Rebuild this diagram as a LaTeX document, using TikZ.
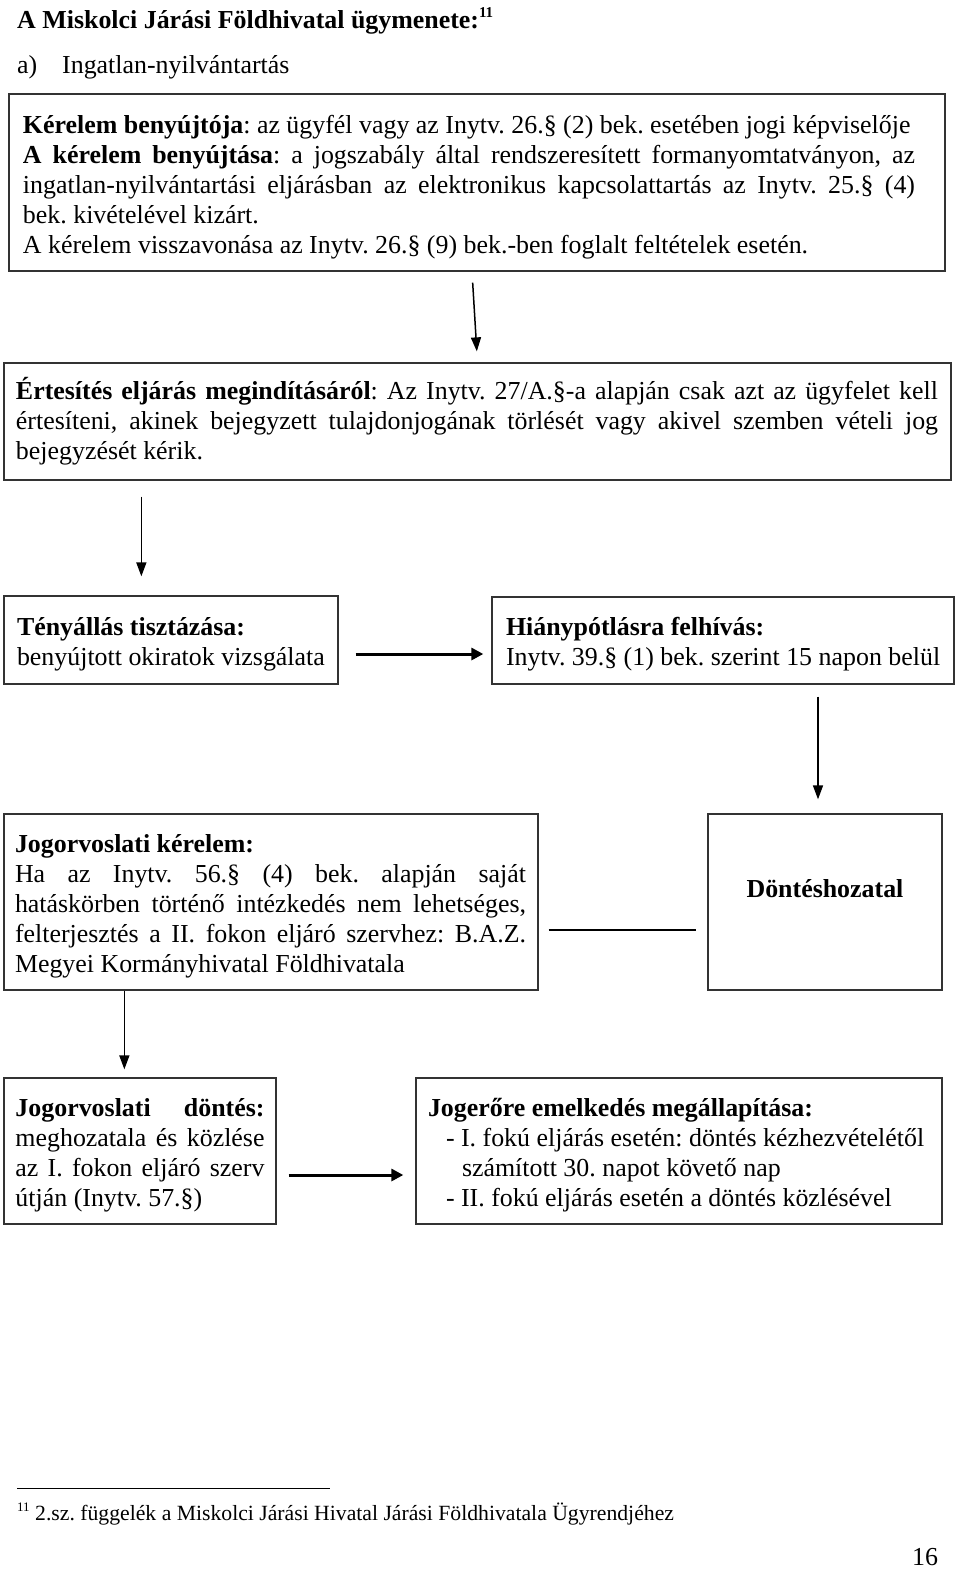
\documentclass[tikz,border=0pt]{standalone}
\usepackage{fontspec}
\setmainfont{Liberation Serif}
\usetikzlibrary{arrows.meta}
\frenchspacing
\newcommand\fsz{\fontsize{25.9}{30}\selectfont\frenchspacing}
\newcommand\rsp{\spaceskip=0pt\relax\xspaceskip=0pt\relax}
\newcommand\jl[2]{\makebox[#1][s]{\rsp #2}}
\newcommand\nl[1]{\mbox{\rsp #1}}
\newcommand\tst[1]{\rule{0pt}{#1}}
\begin{document}
\begin{tikzpicture}[x=1pt,y=-1pt,
  box/.style={draw=black!80, line width=1.3pt, rectangle, inner sep=0pt, align=left, font=\fsz},
  plain/.style={inner sep=0pt, anchor=base west, font=\fsz},
  arr/.style={line width=1.5pt, -{Triangle[length=14pt,width=10pt]}},
  harr/.style={line width=3pt, -{Triangle[length=12pt,width=12pt]}},
  link/.style={line width=1.5pt}]
\useasboundingbox (0,0) rectangle (960,1569);
\fill[white] (0,0) rectangle (960,1569);

% heading
\node[plain, font=\fsz\bfseries] (title) at (17,28) {\nl{A Miskolci Járási Földhivatal ügymenete:}\raisebox{11pt}{\fontsize{15}{15}\selectfont 11}};
\node[plain] (sub1) at (17,73) {a)};
\node[plain] (sub2) at (62,73) {Ingatlan-nyilvántartás};

% boxes
\node[box, minimum width=936pt, minimum height=177pt, text width=908pt] (b1) at (477,182.5) {%
\tst{27pt}\nl{\textbf{Kérelem benyújtója}: az ügyfél vagy az Inytv. 26.§ (2) bek. esetében jogi képviselője}\\
\jl{892pt}{\textbf{A kérelem benyújtása}: a jogszabály által rendszeresített formanyomtatványon, az}\\
\jl{892pt}{ingatlan-nyilvántartási eljárásban az elektronikus kapcsolattartás az Inytv. 25.§ (4)}\\
\nl{bek. kivételével kizárt.}\\
\nl{A kérelem visszavonása az Inytv. 26.§ (9) bek.-ben foglalt feltételek esetén.}};

\node[box, minimum width=947pt, minimum height=117pt, text width=923pt] (b2) at (477.5,421.5) {%
\jl{922pt}{\textbf{Értesítés eljárás megindításáról}: Az Inytv. 27/A.§-a alapján csak azt az ügyfelet kell}\\
\jl{922pt}{értesíteni, akinek bejegyzett tulajdonjogának törlését vagy akivel szemben vételi jog}\\
\nl{bejegyzését kérik.}};

\node[box, minimum width=334pt, minimum height=88pt, text width=308pt] (b3) at (171,640) {%
\tst{26pt}\nl{\textbf{Tényállás tisztázása:}}\\
\nl{benyújtott okiratok vizsgálata}};

\node[box, minimum width=462pt, minimum height=87pt, text width=434pt] (b4) at (723,640.5) {%
\tst{26pt}\nl{\textbf{Hiánypótlásra felhívás:}}\\
\nl{Inytv. 39.§ (1) bek. szerint 15 napon belül}};

\node[box, minimum width=534pt, minimum height=176pt, text width=512pt] (b5) at (271,902) {%
\tst{26pt}\nl{\textbf{Jogorvoslati kérelem:}}\\
\jl{511pt}{Ha az Inytv. 56.§ (4) bek. alapján saját}\\
\jl{511pt}{hatáskörben történő intézkedés nem lehetséges,}\\
\jl{511pt}{felterjesztés a II. fokon eljáró szervhez: B.A.Z.}\\
\nl{Megyei Kormányhivatal Földhivatala}};

\node[box, minimum width=234pt, minimum height=176pt, align=center] (b6) at (825,902) {%
\raisebox{13pt}[\height][\depth]{\textbf{Döntéshozatal}}};

\node[box, minimum width=272pt, minimum height=146pt, text width=249pt] (b7) at (140,1151) {%
\tst{26pt}\jl{249pt}{\textbf{Jogorvoslati döntés:}}\\
\jl{249pt}{meghozatala és közlése}\\
\jl{249pt}{az I. fokon eljáró szerv}\\
\nl{útján (Inytv. 57.§)}};

\node[box, minimum width=526pt, minimum height=146pt, text width=502pt] (b8) at (679,1151) {%
\tst{26pt}\nl{\textbf{Jogerőre emelkedés megállapítása:}}\\
\nl{\hspace*{18pt}- I. fokú eljárás esetén: döntés kézhezvételétől}\\
\nl{\hspace*{34pt}számított 30. napot követő nap}\\
\nl{\hspace*{18pt}- II. fokú eljárás esetén a döntés közlésével}};

% connectors
\draw[arr, shorten <=11pt, shorten >=11pt] ([xshift=-5pt]b1.south) -- (b2.north);
\coordinate (c2) at ([xshift=138pt]b2.south west);
\draw[arr, shorten <=16pt, shorten >=19pt] (c2) -- (c2 |- b3.north);
\coordinate (c3) at ([yshift=-14pt]b3.east);
\draw[harr, shorten <=17pt, shorten >=8pt] (c3) -- (c3 -| b4.west);
\coordinate (c4) at ([xshift=-7pt]b6.north);
\draw[arr, shorten <=12pt, shorten >=14pt] (b4.south -| c4) -- (c4);
\coordinate (c5) at ([yshift=-28pt]b5.east);
\draw[link, shorten <=10pt, shorten >=11pt] (c5) -- (c5 -| b6.west);
\coordinate (c6) at ([xshift=121pt]b5.south west);
\draw[arr, shorten >=8pt] (c6) -- (c6 |- b7.north);
\coordinate (c7) at ([yshift=-24pt]b7.east);
\draw[harr, shorten <=12pt, shorten >=12pt] (c7) -- (c7 -| b8.west);

% footnote
\coordinate (r1) at (17,1488);
\coordinate (r2) at (330,1488);
\draw[line width=1pt] (r1) -- (r2);
\node[plain, font=\fontsize{13}{13}\selectfont] (fnmark) at (17,1511) {11};
\node[plain, font=\fontsize{21.7}{25}\selectfont\frenchspacing] (fn) at (35,1520) {\nl{2.sz. függelék a Miskolci Járási Hivatal Járási Földhivatala Ügyrendjéhez}};
\node[plain] (page) at (912,1565) {16};
\end{tikzpicture}
\end{document}
